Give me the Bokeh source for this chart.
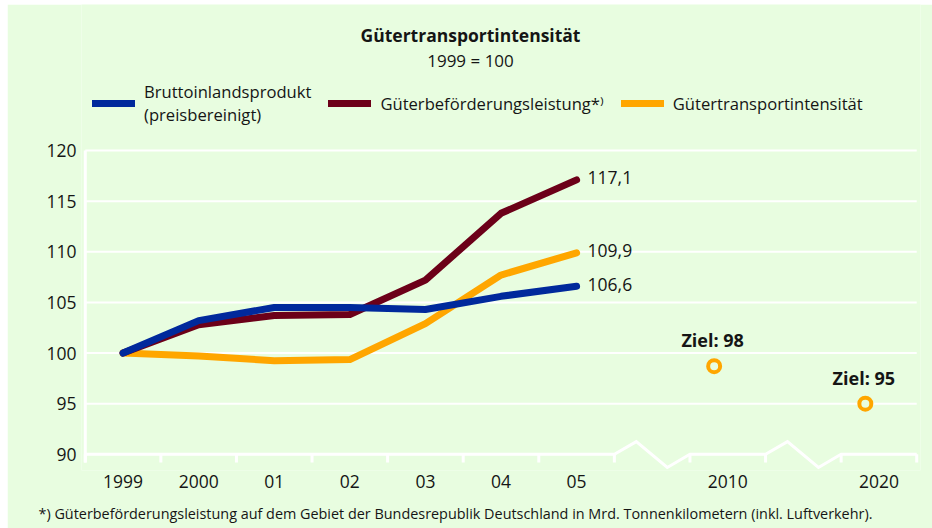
from bokeh.plotting import figure
from bokeh.models import FixedTicker, Label, Legend, LegendItem, ColumnDataSource, Title
from bokeh.transform import dodge
from bokeh.core.properties import value
from bokeh.embed import file_html
from bokeh.resources import INLINE

# ---- data ----
years = ["1999", "2000", "01", "02", "03", "04", "05"]
year_pos = [0, 1, 2, 3, 4, 5, 6]
bip = [100.0, 103.2, 104.5, 104.5, 104.3, 105.6, 106.6]
gbl = [100.0, 102.8, 103.7, 103.8, 107.2, 113.8, 117.1]
gti = [100.0, 99.7, 99.25, 99.35, 102.9, 107.7, 109.9]
target_years = ["2010", "2020"]
target_pos = [8, 10]
target_vals = [98.7, 95.0]
target_text = ["Ziel: 98", "Ziel: 95"]
y_ticks = [90, 95, 100, 105, 110, 115, 120]
breaks = [(6.5, 7.5), (8.5, 9.5)]

BG = "#e8fde0"
BLUE = "#00299c"
RED = "#6c0019"
ORANGE = "#ffa600"
INK = "#151515"
FONT = "Open Sans"

p = figure(width=925, height=524, x_range=(-0.55, 10.55), y_range=(88.4, 134.42),
           output_backend="svg", toolbar_location=None, title_location=None,
           min_border_left=74, min_border_right=12, min_border_top=0, min_border_bottom=58)
p.margin = (4, 0, 0, 7)
p.background_fill_color = BG
p.border_fill_color = BG
p.outline_line_color = None
p.xgrid.visible = False
p.ygrid.visible = False

# y axis (labels only)
p.yaxis.ticker = FixedTicker(ticks=y_ticks)
p.yaxis.axis_line_color = None
p.yaxis.major_tick_line_color = None
p.yaxis.minor_tick_line_color = None
p.yaxis.major_tick_out = 0
p.yaxis.major_tick_in = 0
p.yaxis.major_label_standoff = 5
p.yaxis.major_label_text_font = FONT
p.yaxis.major_label_text_font_size = "17.5px"
p.yaxis.major_label_text_color = INK

# x axis (labels only)
all_pos = year_pos + target_pos
all_lab = years + target_years
p.xaxis.ticker = FixedTicker(ticks=all_pos)
p.xaxis.major_label_overrides = {pos: lab for pos, lab in zip(all_pos, all_lab)}
p.xaxis.axis_line_color = None
p.xaxis.major_tick_line_color = None
p.xaxis.minor_tick_line_color = None
p.xaxis.major_tick_out = 0
p.xaxis.major_tick_in = 0
p.xaxis.major_label_standoff = 4
p.xaxis.major_label_text_font = FONT
p.xaxis.major_label_text_font_size = "17.5px"
p.xaxis.major_label_text_color = INK
# invisible spacer below the tick labels, so the footnote sits lower
p.xaxis.axis_label = " "
p.xaxis.axis_label_text_font_size = "2px"
p.xaxis.axis_label_standoff = 6

# footnote below the x axis
p.add_layout(Title(text="*) Güterbeförderungsleistung auf dem Gebiet der Bundesrepublik Deutschland in Mrd. Tonnenkilometern (inkl. Luftverkehr).",
                   align="left", offset=-43, standoff=5, vertical_align="top", text_font=FONT,
                   text_font_size="14.4px", text_font_style="normal", text_color=INK), "below")

# gridlines (white), from the y ticks, excluding the baseline
x_lo, x_hi = -0.5, max(all_pos) + 0.5
grid_y = [t for t in y_ticks if t > y_ticks[0]]
p.segment(x0=[x_lo] * len(grid_y), x1=[x_hi] * len(grid_y), y0=grid_y, y1=grid_y,
          line_color="white", line_width=2)

# baseline with axis breaks (zigzag)
base = y_ticks[0]
bx, by = [x_lo], [base]
for a, b in breaks:
    w = b - a
    bx += [a, a + 0.29 * w, a + 0.70 * w, b]
    by += [base, base + 1.25, base - 1.3, base]
bx.append(x_hi)
by.append(base)
p.line(bx, by, line_color="white", line_width=3, line_join="miter")

# tick marks at category boundaries
tick_x = [x_lo + i for i in range(int(x_hi - x_lo) + 1)]
tick_len = 0.8
p.segment(x0=tick_x, x1=tick_x, y0=[base] * len(tick_x), y1=[base - tick_len] * len(tick_x),
          line_color="white", line_width=3)
# y axis line
p.segment(x0=[x_lo], x1=[x_lo], y0=[base - tick_len], y1=[y_ticks[-1]],
          line_color="white", line_width=3)

# series
r_gti = p.line(year_pos, gti, line_color=ORANGE, line_width=7, line_cap="round", line_join="round")
r_gbl = p.line(year_pos, gbl, line_color=RED, line_width=7, line_cap="round", line_join="round")
r_bip = p.line(year_pos, bip, line_color=BLUE, line_width=7, line_cap="round", line_join="round")

# end labels
end_src = ColumnDataSource(dict(
    x=[year_pos[-1]] * 3,
    y=[gbl[-1], gti[-1], bip[-1]],
    t=[f"{v:.1f}".replace(".", ",") for v in (gbl[-1], gti[-1], bip[-1])],
))
p.text(x="x", y="y", text="t", source=end_src, x_offset=11, y_offset=-2,
       text_baseline="middle", text_align="left", text_font=value(FONT),
       text_font_size="17.5px", text_color=INK)

# targets
tsrc = ColumnDataSource(dict(x=target_pos, y=target_vals, t=target_text))
p.scatter(x=dodge("x", -0.18), y="y", source=tsrc, marker="circle", size=12,
          line_color=ORANGE, line_width=4, fill_color=BG)
p.text(x=dodge("x", -0.2), y="y", text="t", source=tsrc, y_offset=-26,
       text_align="center", text_baseline="middle", text_font=value(FONT),
       text_font_size="18px", text_font_style="bold", text_color=INK)

# legend (inside the frame area above the grid)
legend = Legend(items=[
    LegendItem(label="Bruttoinlandsprodukt\n(preisbereinigt)", renderers=[r_bip]),
    LegendItem(label="Güterbeförderungsleistung*⁾", renderers=[r_gbl]),
    LegendItem(label="Gütertransportintensität", renderers=[r_gti]),
], orientation="horizontal", location=(11, 344), padding=0, margin=0,
    spacing=17, label_standoff=9, glyph_width=43, glyph_height=38,
    label_text_font=FONT, label_text_font_size="16.6px", label_text_color=INK,
    background_fill_alpha=0, border_line_color=None)
p.add_layout(legend, "center")

# title and subtitle (screen units relative to the frame)
p.add_layout(Label(x=389, y=436, x_units="screen", y_units="screen",
                   text="Gütertransportintensität", text_align="center", text_baseline="middle",
                   text_font=FONT, text_font_size="17.5px", text_font_style="bold",
                   text_color=INK))
p.add_layout(Label(x=389, y=410, x_units="screen", y_units="screen",
                   text="1999 = 100", text_align="center", text_baseline="middle",
                   text_font=FONT, text_font_size="17px", text_color=INK))

open("out.html", "w").write(file_html(p, INLINE))
